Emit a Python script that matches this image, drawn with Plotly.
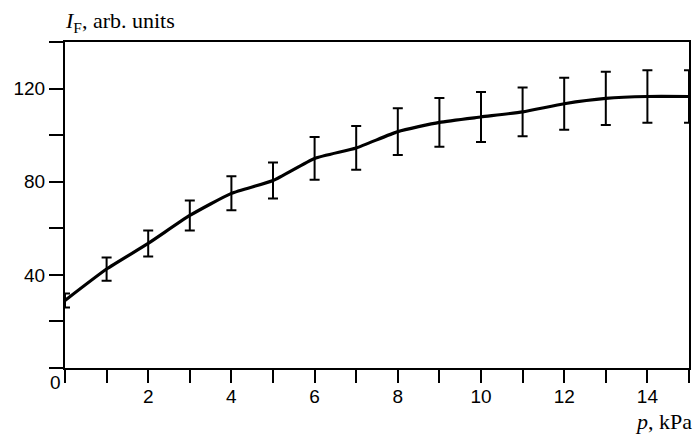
import plotly.graph_objects as go

pressure = [0, 1, 2, 3, 4, 5, 6, 7, 8, 9, 10, 11, 12, 13, 14, 15]
intensity = [29, 42.5, 53.5, 65.5, 75, 80.5, 90, 94.5, 101.5, 105.5, 107.8, 110, 113.5, 115.8, 116.6, 116.6]
error = [3, 5, 5.6, 6.4, 7.3, 7.7, 9.2, 9.4, 10, 10.5, 10.7, 10.5, 11.2, 11.4, 11.3, 11.3]

x_tickvals = list(range(0, 16))
x_ticktext = [str(v) if (v % 2 == 0 and 0 < v < 15) else "" for v in x_tickvals]
y_tickvals = [0, 20, 40, 60, 80, 100, 120, 140]
y_ticktext = ["", "", "40", "", "80", "", "120", ""]

fig = go.Figure()
fig.add_trace(go.Scatter(
    x=pressure, y=intensity, mode="lines",
    line=dict(color="black", width=3.2, shape="spline", smoothing=0.5),
    error_y=dict(type="data", array=error, visible=True, color="black", thickness=2, width=5),
    cliponaxis=False, showlegend=False, hoverinfo="skip",
))

axis_font = dict(family="Liberation Sans, Arial, sans-serif", size=19, color="black")
serif_font = dict(family="Liberation Serif, Times New Roman, serif", size=22, color="black")
fig.update_layout(
    width=695, height=437,
    margin=dict(l=65, r=4, t=42, b=69),
    paper_bgcolor="white", plot_bgcolor="white",
    xaxis=dict(range=[0, 15], tickvals=x_tickvals, ticktext=x_ticktext,
               ticks="outside", ticklen=13, tickwidth=2, tickcolor="black",
               showline=True, linecolor="black", linewidth=2, mirror=True,
               showgrid=False, zeroline=False, tickfont=axis_font,
               ticklabelstandoff=-3),
    yaxis=dict(range=[0, 140], tickvals=y_tickvals, ticktext=y_ticktext,
               ticks="outside", ticklen=14, tickwidth=2, tickcolor="black",
               showline=True, linecolor="black", linewidth=2, mirror=True,
               showgrid=False, zeroline=False, tickfont=axis_font),
    annotations=[
        dict(text="<i>I</i><sub>F</sub>, arb. units", xref="paper", yref="paper",
             x=0, y=1, xanchor="left", yanchor="bottom", yshift=4, xshift=-2, showarrow=False,
             font=serif_font),
        dict(text="<i>p</i>, kPa", xref="paper", yref="paper",
             x=1, y=0, xanchor="right", yanchor="top", yshift=-39, xshift=5, showarrow=False,
             font=serif_font),
        dict(text="0", xref="paper", yref="paper",
             x=0, y=0, xanchor="center", yanchor="top", xshift=-10, yshift=-2, showarrow=False,
             font=axis_font),
    ],
)

fig.write_html("out.html",
               config={"displayModeBar": False},
               post_script="document.body.style.margin='0';document.body.style.overflow='hidden';")
